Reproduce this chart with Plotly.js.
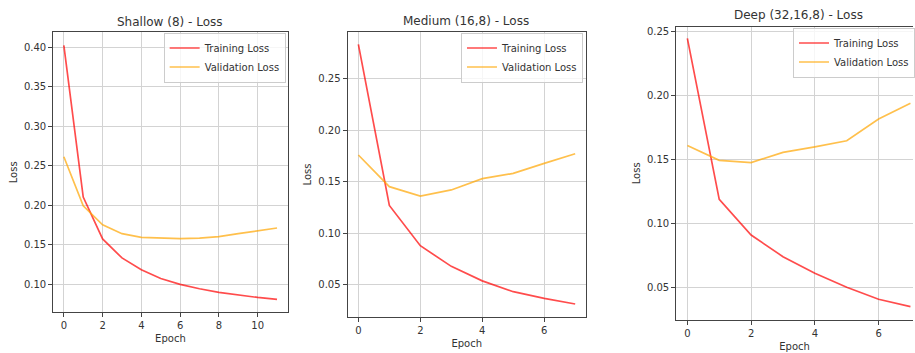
<!DOCTYPE html>
<html>
<head>
<meta charset="utf-8">
<script src="https://cdn.plot.ly/plotly-3.0.1.min.js"></script>
<style>html,body{margin:0;padding:0;background:#fff;}#chart{width:915px;height:353px;}</style>
</head>
<body>
<div id="chart"></div>
<script>
// ---- data ----
const epochsShallow = [0,1,2,3,4,5,6,7,8,9,10,11];
const shallowTrain = [0.402,0.210,0.157,0.133,0.118,0.107,0.0996,0.094,0.0895,0.086,0.083,0.0806];
const shallowVal   = [0.261,0.199,0.175,0.1637,0.159,0.1578,0.1574,0.158,0.160,0.1637,0.167,0.1709];

const epochsMedium = [0,1,2,3,4,5,6,7];
const mediumTrain = [0.283,0.127,0.088,0.068,0.054,0.0435,0.037,0.0316];
const mediumVal   = [0.1758,0.1452,0.1361,0.142,0.153,0.158,0.1677,0.177];

const epochsDeep = [0,1,2,3,4,5,6,7];
const deepTrain = [0.2448,0.119,0.0911,0.0742,0.0612,0.0503,0.0409,0.0352];
const deepVal   = [0.161,0.1495,0.1477,0.1557,0.160,0.1648,0.1818,0.194];

const panelTitles = ["Shallow (8) - Loss", "Medium (16,8) - Loss", "Deep (32,16,8) - Loss"];
const seriesNames = ["Training Loss", "Validation Loss"];
const xTitle = "Epoch";
const yTitle = "Loss";

// ---- styling ----
const FONT = "DejaVu Sans, Verdana, sans-serif";
const TXT = "#333333";
const RED = "rgba(255,0,0,0.7)";
const ORANGE = "rgba(255,165,0,0.7)";
const LW = 1.7;

function line(x, y, name, color, n, legendName, show) {
  return {
    x: x, y: y, type: "scatter", mode: "lines", name: name,
    line: {color: color, width: LW},
    xaxis: "x" + (n === 1 ? "" : n), yaxis: "y" + (n === 1 ? "" : n),
    legend: legendName, showlegend: show, hoverinfo: "skip"
  };
}

const traces = [
  line(epochsShallow, shallowTrain, seriesNames[0], RED, 1, "legend", true),
  line(epochsShallow, shallowVal, seriesNames[1], ORANGE, 1, "legend", true),
  line(epochsMedium, mediumTrain, seriesNames[0], RED, 2, "legend2", true),
  line(epochsMedium, mediumVal, seriesNames[1], ORANGE, 2, "legend2", true),
  line(epochsDeep, deepTrain, seriesNames[0], RED, 3, "legend3", true),
  line(epochsDeep, deepVal, seriesNames[1], ORANGE, 3, "legend3", true)
];

function xAxis(domain, range, anchor, mirror) {
  return {
    domain: domain, range: range, anchor: anchor,
    tickmode: "linear", tick0: 0, dtick: 2,
    showgrid: true, gridcolor: "#d3d3d3", gridwidth: 1,
    zeroline: false, showline: true, linecolor: "#444", linewidth: 1, mirror: mirror,
    ticks: "outside", ticklen: 4, tickcolor: "#444", tickwidth: 1,
    tickfont: {family: FONT, size: 10, color: TXT},
    title: {text: xTitle, font: {family: FONT, size: 10, color: TXT}, standoff: 4},
    automargin: false, fixedrange: true
  };
}
function yAxis(domain, range, anchor, mirror) {
  return {
    domain: domain, range: range, anchor: anchor,
    tickmode: "linear", tick0: 0, dtick: 0.05, tickformat: ".2f",
    showgrid: true, gridcolor: "#d3d3d3", gridwidth: 1,
    zeroline: false, showline: true, linecolor: "#444", linewidth: 1, mirror: mirror,
    ticks: "outside", ticklen: 4, tickcolor: "#444", tickwidth: 1,
    tickfont: {family: FONT, size: 10, color: TXT},
    title: {text: yTitle, font: {family: FONT, size: 10, color: TXT}, standoff: 4},
    automargin: false, fixedrange: true
  };
}

const W = 915, H = 353;
const px = v => v / W;
const py = v => 1 - v / H;

const legendStyle = (x, y) => ({
  x: x, y: y, xref: "paper", yref: "paper", xanchor: "left", yanchor: "top",
  bgcolor: "rgba(255,255,255,0.8)", bordercolor: "#cccccc", borderwidth: 1,
  font: {family: FONT, size: 10, color: TXT}, itemwidth: 30, tracegroupgap: 0
});

const layout = {
  width: W, height: H,
  margin: {l: 0, r: 0, t: 0, b: 0, pad: 0},
  paper_bgcolor: "#ffffff", plot_bgcolor: "#ffffff",
  font: {family: FONT, size: 10, color: TXT},
  xaxis:  xAxis([px(53.3), px(288.3)], [-0.55, 11.55], "y", true),
  yaxis:  yAxis([py(312.3), py(32.3)], [0.0642, 0.4186], "x", true),
  xaxis2: xAxis([px(348.3), px(587.3)], [-0.35, 7.35], "y2", true),
  yaxis2: yAxis([py(317.3), py(31.7)], [0.0187, 0.2952], "x2", true),
  xaxis3: xAxis([px(677.7), 1], [-0.35, 7.08], "y3", true),
  yaxis3: yAxis([py(320), py(26.7)], [0.0247, 0.2539], "x3", false),
  legend:  legendStyle(px(164), py(32.5)),
  legend2: legendStyle(px(462), py(32.5)),
  legend3: legendStyle(px(795), py(27.5)),
  annotations: [
    {text: panelTitles[0], x: px(170.8), y: py(21.7), xref: "paper", yref: "paper", showarrow: false, xanchor: "center", yanchor: "middle", font: {family: FONT, size: 12, color: TXT}},
    {text: panelTitles[1], x: px(467.5), y: py(20.7), xref: "paper", yref: "paper", showarrow: false, xanchor: "center", yanchor: "middle", font: {family: FONT, size: 12, color: TXT}},
    {text: panelTitles[2], x: px(800.6), y: py(15), xref: "paper", yref: "paper", showarrow: false, xanchor: "center", yanchor: "middle", font: {family: FONT, size: 12, color: TXT}}
  ],
  showlegend: true
};

Plotly.newPlot("chart", traces, layout, {staticPlot: true, displayModeBar: false});
</script>
</body>
</html>
